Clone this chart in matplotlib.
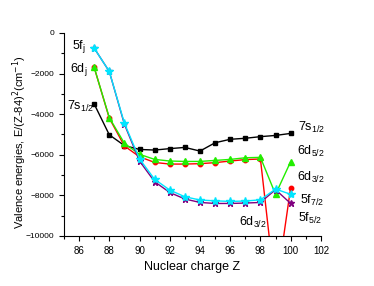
import matplotlib
matplotlib.use('Agg')
import matplotlib.pyplot as plt
from matplotlib.ticker import MultipleLocator

plt.rcParams['font.family'] = ['Liberation Sans', 'DejaVu Sans']

# data
Z = [87, 88, 89, 90, 91, 92, 93, 94, 95, 96, 97, 98, 99, 100]
s12 = [-3500, -5020, -5550, -5740, -5770, -5700, -5640, -5820, -5410, -5240, -5190, -5110, -5050, -4950]
d52 = [-1700, -4170, -5440, -5980, -6230, -6310, -6330, -6330, -6280, -6230, -6150, -6130, -7950, -6340]
d32 = [-1700, -4200, -5570, -6100, -6380, -6460, -6460, -6440, -6390, -6310, -6240, -6210, -12800, -7620]
f72 = [-750, -1900, -4450, -6210, -7210, -7740, -8070, -8230, -8270, -8300, -8280, -8220, -7690, -7950]
f52 = [-750, -1900, -4500, -6310, -7330, -7860, -8180, -8350, -8400, -8400, -8380, -8350, -7720, -8400]

fig = plt.figure(figsize=(3.74, 2.86), dpi=100)
ax = fig.add_axes([0.171, 0.175, 0.687, 0.710])

ax.plot(Z, s12, color='black', marker='s', ms=3.2, lw=1)
ax.plot(Z, d32, color='red', marker='o', ms=3.2, lw=1)
ax.plot(Z, d52, color='#22ee00', marker='^', ms=3.8, lw=1)
ax.plot(Z, f52, color='#800080', marker='*', ms=4.5, lw=1)
ax.plot(Z, f72, color='#00e5ff', marker='*', ms=6, lw=1)

ax.set_xlim(85, 102)
ax.set_ylim(-10000, 0)
ax.xaxis.set_major_locator(MultipleLocator(2))
ax.xaxis.set_minor_locator(MultipleLocator(1))
ax.yaxis.set_major_locator(MultipleLocator(2000))
ax.yaxis.set_minor_locator(MultipleLocator(1000))
ax.tick_params(which='both', direction='out', width=0.8)
ax.tick_params(axis='x', labelsize=7)
ax.tick_params(axis='y', labelsize=6)
ax.tick_params(which='major', length=3.5)
ax.tick_params(which='minor', length=2)
ax.spines['top'].set_visible(False)
ax.spines['right'].set_visible(False)

ax.set_xlabel('Nuclear charge Z', fontsize=9)
ax.set_ylabel('Valence energies, E/(Z-84)$^2$(cm$^{-1}$)', fontsize=8)
ax.yaxis.set_label_coords(-0.135, 0.46)

# series labels
fs = 9
ax.text(85.5, -800, r'5f$_\mathregular{j}$', fontsize=fs)
ax.text(85.4, -1900, r'6d$_\mathregular{j}$', fontsize=fs)
ax.text(85.2, -3800, r'7s$_\mathregular{1/2}$', fontsize=fs)
ax.text(100.5, -4850, r'7s$_\mathregular{1/2}$', fontsize=fs)
ax.text(100.4, -6000, r'6d$_\mathregular{5/2}$', fontsize=fs)
ax.text(100.4, -7300, r'6d$_\mathregular{3/2}$', fontsize=fs)
ax.text(100.6, -8400, r'5f$_\mathregular{7/2}$', fontsize=fs)
ax.text(100.5, -9300, r'5f$_\mathregular{5/2}$', fontsize=fs)
ax.text(96.6, -9500, r'6d$_\mathregular{3/2}$', fontsize=fs)

fig.savefig('out.png', dpi=100)
